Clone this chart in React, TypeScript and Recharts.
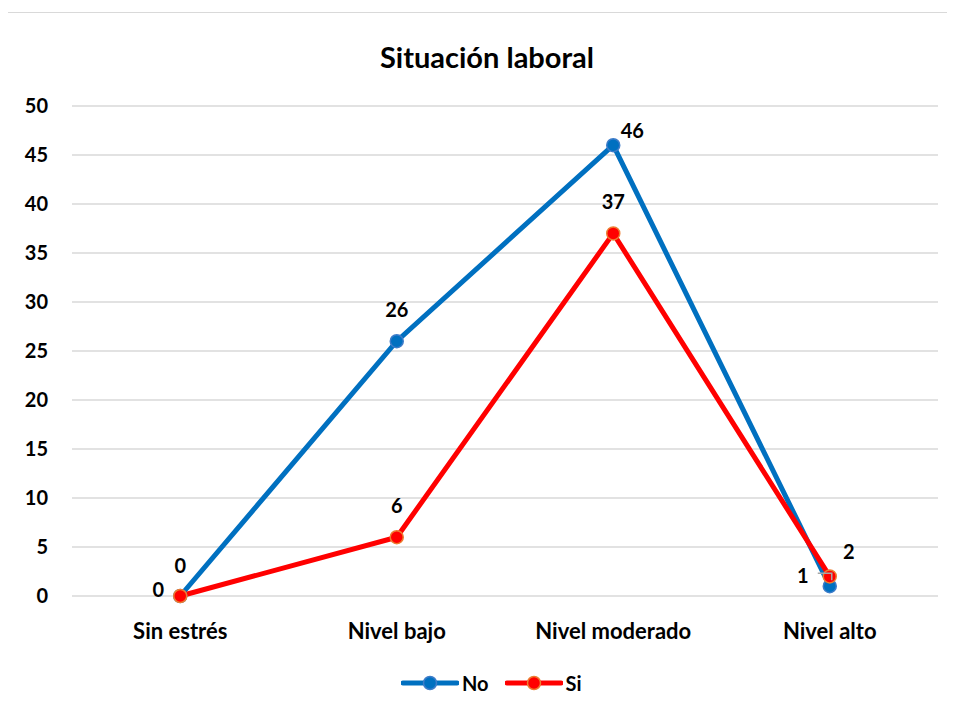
// @ts-nocheck
import React from "react"
import {
    LineChart,
    Line,
    XAxis,
    YAxis,
    CartesianGrid,
    LabelList
} from "recharts"

// Data
const categories = ["Sin estrés", "Nivel bajo", "Nivel moderado", "Nivel alto"]
const noValues = [0, 26, 46, 1]
const siValues = [0, 6, 37, 2]
const yTicks = [0, 5, 10, 15, 20, 25, 30, 35, 40, 45, 50]

const BLUE = "#0070C0"
const RED = "#FF0000"
const FONT = "Lato, 'Open Sans', sans-serif"

const data = categories.map((c, i) => ({
    name: c,
    No: noValues[i],
    Si: siValues[i]
}))

// label offsets (dx, dy) per point, relative to the marker
const noOffsets = [[0, -30], [0, -31], [19, -14], [-27, -10]]
const siOffsets = [[-22, -6], [0, -31], [0, -31], [19, -24]]

const makeLabel = (offsets: number[][], leader?: number) => (props: any) => {
    const { x, y, value, index } = props
    const [dx, dy] = offsets[index]
    return (
        <g>
            {leader === index && (
                <polyline
                    points={`${x - 12},${y - 13} ${x + 2},${y - 13} ${x + 2},${y - 6}`}
                    fill="none"
                    stroke="#a6a6a6"
                    strokeWidth={1.5}
                />
            )}
            <text
                x={x + dx}
                y={y + dy}
                dy="0.35em"
                textAnchor="middle"
                fontFamily={FONT}
                fontWeight="bold"
                fontSize={20}
                fill="#000"
            >
                {value}
            </text>
        </g>
    )
}

const XTick = ({ x, y, payload }: any) => (
    <text
        x={x}
        y={y + 33}
        dy="0.35em"
        textAnchor="middle"
        fontFamily={FONT}
        fontWeight="bold"
        fontSize={22}
        fill="#000"
    >
        {payload.value}
    </text>
)

const YTick = ({ x, y, payload }: any) => (
    <text
        x={x - 22}
        y={y}
        dy="0.35em"
        textAnchor="end"
        fontFamily={FONT}
        fontWeight="bold"
        fontSize={20}
        fill="#000"
    >
        {payload.value}
    </text>
)

const LegendItem = ({ color, stroke, label }: any) => (
    <div style={{ display: "flex", alignItems: "center", marginRight: 16 }}>
        <svg width={58} height={20}>
            <line x1={2} y1={10} x2={56} y2={10} stroke={color} strokeWidth={5} strokeLinecap="round" />
            <circle cx={29} cy={10} r={6.5} fill={color} stroke={stroke} strokeWidth={1.5} />
        </svg>
        <span style={{ fontFamily: FONT, fontWeight: "bold", fontSize: 20, marginLeft: 3 }}>{label}</span>
    </div>
)

export default function App() {
    return (
        <div
            style={{
                position: "relative",
                width: 946,
                height: 702,
                marginTop: 4,
                marginLeft: -1,
                border: "1px solid #d9d9d9",
                background: "#fff"
            }}
        >
            <div
                style={{
                    position: "absolute",
                    top: 26,
                    left: 0,
                    width: 958,
                    textAlign: "center",
                    fontFamily: FONT,
                    fontWeight: "bold",
                    fontSize: 29,
                    lineHeight: "35px"
                }}
            >
                Situación laboral
            </div>
            <LineChart
                width={946}
                height={700}
                data={data}
                margin={{ top: 93, right: 16, left: 0, bottom: 77 }}
            >
                <CartesianGrid vertical={false} stroke="#d9d9d9" strokeWidth={1.5} />
                <XAxis
                    dataKey="name"
                    scale="band"
                    axisLine={false}
                    tickLine={false}
                    tickSize={0}
                    tick={<XTick />}
                    height={40}
                    interval={0}
                />
                <YAxis
                    domain={[0, 50]}
                    ticks={yTicks}
                    axisLine={false}
                    tickLine={false}
                    tickSize={0}
                    tick={<YTick />}
                    width={64}
                    interval={0}
                />
                <Line
                    dataKey="No"
                    stroke={BLUE}
                    strokeWidth={5}
                    dot={{ r: 6.5, fill: BLUE, stroke: "#3d7cc9", strokeWidth: 1.5 }}
                    isAnimationActive={false}
                >
                    <LabelList dataKey="No" content={makeLabel(noOffsets, 3)} />
                </Line>
                <Line
                    dataKey="Si"
                    stroke={RED}
                    strokeWidth={5}
                    dot={{ r: 6.5, fill: RED, stroke: "#ED7D31", strokeWidth: 1.5 }}
                    isAnimationActive={false}
                >
                    <LabelList dataKey="Si" content={makeLabel(siOffsets)} />
                </Line>
            </LineChart>
            <div
                style={{
                    position: "absolute",
                    top: 658,
                    left: 393,
                    display: "flex",
                    alignItems: "center"
                }}
            >
                <LegendItem color={BLUE} stroke="#3d7cc9" label="No" />
                <LegendItem color={RED} stroke="#ED7D31" label="Si" />
            </div>
        </div>
    )
}
